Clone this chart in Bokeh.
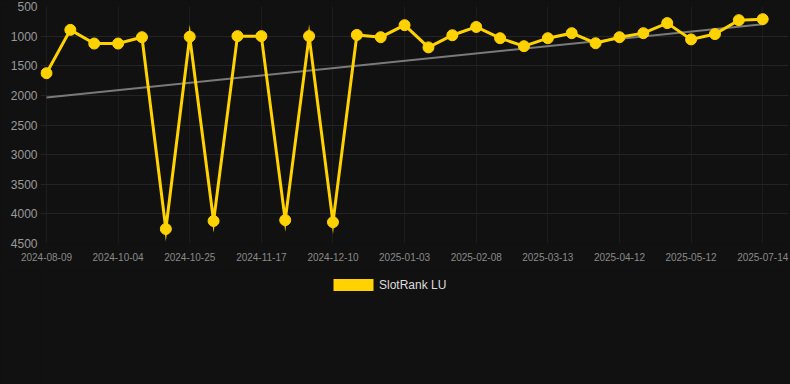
from bokeh.plotting import figure
from bokeh.layouts import column
from bokeh.models import Range1d, FixedTicker, Legend, LegendItem, ColumnDataSource
from bokeh.embed import file_html
from bokeh.resources import INLINE

# ---- data ----
ranks = [1626, 894, 1125, 1125, 1018, 4255, 1010, 4120, 1000, 1000,
         4105, 1000, 4140, 980, 1018, 815, 1190, 985, 845, 1035,
         1170, 1035, 950, 1120, 1018, 950, 780, 1055, 965, 730, 714]
tick_labels = ["2024-08-09", "2024-10-04", "2024-10-25", "2024-11-17", "2024-12-10",
               "2025-01-03", "2025-02-08", "2025-03-13", "2025-04-12", "2025-05-12",
               "2025-07-14"]
tick_index = [0, 3, 6, 9, 12, 15, 18, 21, 24, 27, 30]
trend_values = [2035, 800]
trend_index = [0, 30]
y_ticks = [500, 1000, 1500, 2000, 2500, 3000, 3500, 4000, 4500]
series_name = "SlotRank LU"

BG = "#111111"
YELLOW = "#FFD200"
FONT = "Liberation Sans"

x = list(range(len(ranks)))
src = ColumnDataSource(dict(x=x, y=ranks))

p = figure(width=790, height=270, output_backend="svg", toolbar_location=None,
           x_range=Range1d(-0.25, 31.08), y_range=Range1d(4500, 500),
           min_border_left=40, min_border_right=2, min_border_top=6,
           min_border_bottom=27, styles={"background-color": BG})
p.background_fill_color = BG
p.border_fill_color = BG
p.outline_line_color = None

# trend line
p.line(trend_index, trend_values, line_color="#7a7a7a", line_width=2)

# main series
p.line("x", "y", source=src, line_color=YELLOW, line_width=3, line_join="miter")
p.scatter("x", "y", source=src, size=11, fill_color=YELLOW, line_color=YELLOW)

# axes
p.xaxis.ticker = FixedTicker(ticks=tick_index)
p.xaxis.major_label_overrides = {i: l for i, l in zip(tick_index, tick_labels)}
p.yaxis.ticker = FixedTicker(ticks=y_ticks)
for ax in (p.xaxis, p.yaxis):
    ax.axis_line_color = None
    ax.major_tick_line_color = None
    ax.minor_tick_line_color = None
    ax.major_tick_out = 0
    ax.major_tick_in = 0
    ax.major_label_text_font = FONT
p.yaxis.major_label_text_font_size = "12px"
p.yaxis.major_label_text_color = "#9a9a9a"
p.yaxis.major_label_standoff = 3
p.xaxis.major_label_text_font_size = "10px"
p.xaxis.major_label_text_color = "#8a8a8a"
p.xaxis.major_label_standoff = 9

p.xgrid.ticker = FixedTicker(ticks=tick_index)
p.ygrid.ticker = FixedTicker(ticks=y_ticks)
p.xgrid.grid_line_color = "#1c1c1c"
p.ygrid.grid_line_color = "#242424"

# legend area: a second svg figure below the chart
lf = figure(width=790, height=114, output_backend="svg", toolbar_location=None,
            x_axis_location=None, y_axis_location=None,
            x_range=Range1d(0, 1), y_range=Range1d(0, 1),
            min_border_left=40, min_border_right=2, min_border_top=0,
            min_border_bottom=0, styles={"background-color": BG})
lf.background_fill_color = BG
lf.border_fill_color = BG
lf.outline_line_color = None
lf.xgrid.visible = False
lf.ygrid.visible = False

# legend proxy box (kept outside the visible range)
proxy = ColumnDataSource(dict(l=[5], r=[6], t=[5], b=[6]))
box = lf.quad(left="l", right="r", top="t", bottom="b", source=proxy,
              fill_color=YELLOW, line_color=None)
legend = Legend(items=[LegendItem(label=series_name, renderers=[box])],
                location=(288, 92), orientation="horizontal",
                padding=0, margin=0, spacing=0,
                glyph_width=50, glyph_height=15, label_height=15,
                label_standoff=1,
                label_text_font=FONT, label_text_font_size="12px",
                label_text_color="#dddddd",
                background_fill_alpha=0, border_line_color=None)
lf.add_layout(legend, "center")

layout = column(p, lf, spacing=0, styles={"background-color": BG})
open("out.html", "w").write(file_html(layout, INLINE))
